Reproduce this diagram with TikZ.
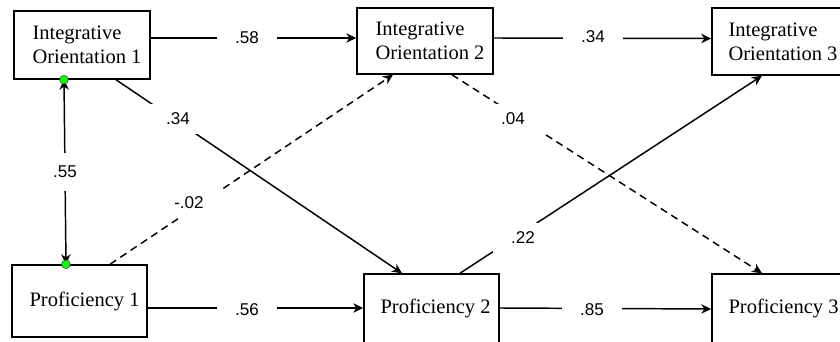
\documentclass[tikz,border=0pt]{standalone}
\usepackage{fontspec}
\setmainfont{Liberation Serif}
\newfontfamily\lblfont{Liberation Sans}
\usetikzlibrary{arrows.meta,calc}
\definecolor{dotgreen}{RGB}{30,235,30}
\begin{document}
\begin{tikzpicture}[x=0.75pt,y=-0.75pt,
  box/.style={draw, line width=1.1pt, minimum width=102pt, minimum height=#1, inner sep=0pt},
  box/.default=51pt,
  btxt/.style={anchor=west, align=left, inner sep=0pt, font=\fontsize{15.4}{18}\selectfont},
  conn/.style={line width=1.1pt, -{Stealth[length=7.5pt,width=7pt,inset=2.4pt]}},
  bconn/.style={line width=1.1pt, {Stealth[length=7.5pt,width=7pt,inset=2.4pt]}-{Stealth[length=7.5pt,width=7pt,inset=2.4pt]}},
  dsh/.style={dash pattern=on 5.5pt off 3.8pt},
  lbl/.style={fill=white, inner xsep=13.5pt, inner ysep=7pt, font=\lblfont\fontsize{12.8}{14}\selectfont},
  gdot/.style={circle, fill=dotgreen, draw=green!45!black, line width=0.4pt, inner sep=0pt, minimum size=6.5pt}
]
\useasboundingbox (0,0) rectangle (840,342);
\clip (0,0) rectangle (840,342);

% boxes
\node[box=51pt] (io1) at (82,45) {};
\node[box=49.5pt] (io2) at (425,41) {};
\node[box=50.25pt] (io3) at (780,41.5) {};
\node[box=54pt, minimum width=101.25pt] (p1) at (79.5,301) {};
\node[box=54pt, minimum width=101.25pt] (p2) at (431.5,310) {};
\node[box=54pt, minimum width=101.25pt] (p3) at (779.5,310) {};

% box texts
\node[btxt] (t1) at ($(io1.west)+(19,0)$) {Integrative\\Orientation 1};
\node[btxt] (t2) at ($(io2.west)+(19,0)$) {Integrative\\Orientation 2};
\node[btxt] (t3) at ($(io3.west)+(17,0)$) {Integrative\\Orientation 3};
\node[btxt] (t4) at ($(p1.west)+(18,0)$) {Proficiency 1};
\node[btxt] (t5) at ($(p2.west)+(17,-1.5)$) {Proficiency 2};
\node[btxt] (t6) at ($(p3.west)+(17,-1.5)$) {Proficiency 3};

% connectors
\draw[conn] ($(io1.east)+(0,-7)$) -- ($(io2.west)+(0,-3)$);
\draw[conn] ($(io2.east)+(0,-3)$) -- ($(io3.west)+(0,-3)$);
\draw[conn] ($(p1.east)+(0,7)$) -- ($(p2.west)+(0,-2)$);
\draw[conn] ($(p2.east)+(0,-2)$) -- ($(p3.west)+(0,-1)$);
\draw[conn] ($(io1.south)+(34,0)$) -- ($(p2.north)+(-29.5,0)$);
\draw[conn,dsh] ($(p1.north)+(30.5,0)$) -- ($(io2.south)+(-32,0)$);
\draw[conn,dsh] ($(io2.south)+(27,0)$) -- ($(p3.north)+(-17.5,0)$);
\draw[conn] ($(p2.north)+(28.5,0)$) -- ($(io3.south)+(-18,0)$);
\draw[bconn] ($(io1.south)+(-18,0)$) coordinate (da) -- ($(p1.north)+(-13.5,0)$) coordinate (db);
\node[gdot] (g1) at (da) {};
\node[gdot] (g2) at (db) {};

% labels
\node[lbl] (l1) at (247,38) {.58};
\node[lbl] (l2) at (593,37) {.34};
\node[lbl] (l3) at (247,310) {.56};
\node[lbl] (l4) at (592,310) {.85};
\node[lbl] (l5) at (178,119) {.34};
\node[lbl] (l6) at (189,203) {-.02};
\node[lbl] (l7) at (513,119) {.04};
\node[lbl] (l8) at (523,238) {.22};
\node[lbl, inner xsep=8pt, inner ysep=10pt] (l9) at (65,172) {.55};
\end{tikzpicture}
\end{document}
